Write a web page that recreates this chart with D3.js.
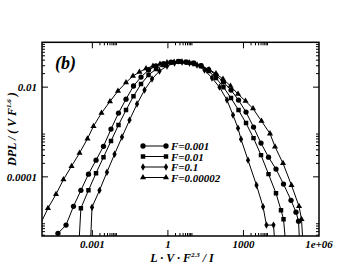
<!DOCTYPE html>
<html>
<head>
<meta charset="utf-8">
<script src="https://cdn.jsdelivr.net/npm/d3@7"></script>
<style>
  body { margin: 0; background: #fff; }
  text { font-family: "Liberation Serif", "Times New Roman", serif; font-weight: bold; font-style: italic; }
</style>
</head>
<body>
<div id="chart"></div>
<script>
// F = 0.001 (circles)
const f001X = [4.3e-5, 9.0e-5, 1.78e-4, 3.5e-4, 7.0e-4, 1.4e-3, 2.77e-3, 5.5e-3, 0.0109, 0.0217, 0.043, 0.0855, 0.17, 0.337, 0.668, 1.33, 2.64, 5.24, 10.4, 20.6, 41, 81, 161, 321, 637, 1265, 2510, 4980, 9900, 19600, 39000, 77400, 122000, 154000, 176000];
const f001Y = [5.5e-6, 8.4e-6, 2.2e-5, 5.0e-5, 1.15e-4, 2.36e-4, 4.8e-4, 1.16e-3, 2.64e-3, 5.4e-3, 0.0106, 0.0168, 0.0241, 0.0296, 0.0336, 0.0363, 0.0373, 0.0363, 0.0345, 0.0303, 0.0247, 0.0186, 0.013, 8.6e-3, 5.15e-3, 2.78e-3, 1.29e-3, 5.65e-4, 2.75e-4, 1.49e-4, 6.9e-5, 3.0e-5, 1.63e-5, 1.03e-5, 2e-6];

// F = 0.01 (squares)
const f01X = [2.8e-4, 3.5e-4, 7.0e-4, 1.4e-3, 2.77e-3, 5.5e-3, 0.0109, 0.0217, 0.043, 0.0855, 0.17, 0.337, 0.668, 1.33, 2.64, 5.24, 10.4, 20.6, 41, 81, 161, 321, 637, 1265, 2510, 4980, 9900, 19600, 31000, 39000, 51300];
const f01Y = [2e-6, 2.0e-5, 5.0e-5, 1.21e-4, 2.75e-4, 6.3e-4, 1.43e-3, 3.08e-3, 6.3e-3, 0.0117, 0.0186, 0.0254, 0.0311, 0.0354, 0.0373, 0.0363, 0.0345, 0.0296, 0.0229, 0.016, 0.01, 5.7e-3, 3.08e-3, 1.58e-3, 7.3e-4, 3.05e-4, 1.15e-4, 4.3e-5, 1.81e-5, 1.14e-5, 2e-6];

// F = 0.1 (diamonds)
const f1X = [8.1e-4, 9.7e-4, 1.92e-3, 3.8e-3, 7.6e-3, 0.015, 0.0299, 0.0593, 0.118, 0.234, 0.464, 0.92, 1.83, 3.63, 7.2, 14.3, 28.4, 56.4, 112, 222, 385, 608, 800, 1520, 3300, 6000, 8200, 15600, 18800];
const f1Y = [2e-6, 2.1e-5, 5.0e-5, 1.27e-4, 3.2e-4, 7.7e-4, 1.84e-3, 4.2e-3, 8.6e-3, 0.0152, 0.0229, 0.0296, 0.0345, 0.0363, 0.0345, 0.0311, 0.0241, 0.016, 0.01, 5.15e-3, 2.38e-3, 1.22e-3, 6.9e-4, 2.36e-4, 6.5e-5, 2.16e-5, 8.4e-6, 8.4e-6, 2e-6];

// F = 0.00002 (triangles)
const f00002X = [8.3e-6, 1.73e-5, 3.6e-5, 7.1e-5, 1.49e-4, 3.1e-4, 6.4e-4, 1.11e-3, 2.3e-3, 5.0e-3, 0.0104, 0.0217, 0.041, 0.074, 0.135, 0.256, 0.485, 0.92, 1.75, 3.3, 6.3, 11.9, 22.6, 42.9, 81, 154, 306, 608, 1208, 2400, 5200, 11350, 17900, 37200, 81000, 161000, 202000, 243000];
const f00002Y = [8.4e-6, 2.0e-5, 4.1e-5, 8.7e-5, 1.73e-4, 3.4e-4, 7.1e-4, 1.35e-3, 2.64e-3, 4.8e-3, 8.2e-3, 0.0127, 0.0177, 0.0217, 0.026, 0.0296, 0.0328, 0.0354, 0.0363, 0.0363, 0.0345, 0.032, 0.0288, 0.0247, 0.0201, 0.0152, 0.0106, 7.0e-3, 4.9e-3, 3.33e-3, 1.75e-3, 9.2e-4, 4.7e-4, 2.0e-4, 6.5e-5, 2.2e-5, 1.14e-5, 2e-6];

const legendLabels = ["F=0.001", "F=0.01", "F=0.1", "F=0.00002"];
const xTickValues = [1e-3, 1, 1e3, 1e6];
const xTickLabels = ["0.001", "1", "1000", "1e+06"];
const yTickValues = [1e-4, 1e-2];
const yTickLabels = ["0.0001", "0.01"];

const width = 359, height = 278;
const plotL = 42, plotR = 319, plotT = 42.3, plotB = 236;

const svg = d3.select("#chart").append("svg")
  .attr("width", width)
  .attr("height", height);

const x = d3.scaleLog().domain([1e-5, 1e6]).range([plotL, plotR]);
const y = d3.scaleLog().domain([4.8e-6, 0.1]).range([plotB, plotT]);

svg.append("defs").append("clipPath").attr("id", "clip")
  .append("rect")
  .attr("x", plotL).attr("y", plotT)
  .attr("width", plotR - plotL).attr("height", plotB - plotT);

// minor ticks: 2..9 times each major
const minorX = [], minorY = [];
[1e-6, 1e-3, 1, 1e3, 1e6].forEach(m => d3.range(2, 10).forEach(k => {
  const v = m * k;
  if (v > 1e-5 && v < 1e6) minorX.push(v);
}));
[1e-6, 1e-4, 1e-2, 1].forEach(m => d3.range(2, 10).forEach(k => {
  const v = m * k;
  if (v > 4.8e-6 && v < 0.1) minorY.push(v);
}));

const axes = svg.append("g").attr("stroke", "#000").attr("stroke-width", 1);
const xMaj = xTickValues.filter(v => v < 1e6);

axes.selectAll(null).data(xMaj).join("line")
  .attr("x1", d => x(d)).attr("x2", d => x(d))
  .attr("y1", plotB).attr("y2", plotB - 6);
axes.selectAll(null).data(xMaj).join("line")
  .attr("x1", d => x(d)).attr("x2", d => x(d))
  .attr("y1", plotT).attr("y2", plotT + 6);
axes.selectAll(null).data(minorX).join("line")
  .attr("x1", d => x(d)).attr("x2", d => x(d))
  .attr("y1", plotB).attr("y2", plotB - 3);
axes.selectAll(null).data(minorX).join("line")
  .attr("x1", d => x(d)).attr("x2", d => x(d))
  .attr("y1", plotT).attr("y2", plotT + 3);

axes.selectAll(null).data(yTickValues).join("line")
  .attr("y1", d => y(d)).attr("y2", d => y(d))
  .attr("x1", plotL).attr("x2", plotL + 6);
axes.selectAll(null).data(yTickValues).join("line")
  .attr("y1", d => y(d)).attr("y2", d => y(d))
  .attr("x1", plotR).attr("x2", plotR - 6);
axes.selectAll(null).data(minorY).join("line")
  .attr("y1", d => y(d)).attr("y2", d => y(d))
  .attr("x1", plotL).attr("x2", plotL + 3);
axes.selectAll(null).data(minorY).join("line")
  .attr("y1", d => y(d)).attr("y2", d => y(d))
  .attr("x1", plotR).attr("x2", plotR - 3);

// tick labels
svg.selectAll(null).data(xTickValues).join("text")
  .attr("x", d => x(d)).attr("y", 248)
  .attr("text-anchor", "middle").attr("font-size", 11)
  .text((d, i) => xTickLabels[i]);
svg.selectAll(null).data(yTickValues).join("text")
  .attr("x", 37).attr("y", d => y(d) + 4)
  .attr("text-anchor", "end").attr("font-size", 11)
  .text((d, i) => yTickLabels[i]);

// axis titles
const xt = svg.append("text").attr("x", 182).attr("y", 262)
  .attr("text-anchor", "middle").attr("font-size", 12);
xt.append("tspan").text("L · V · F");
xt.append("tspan").attr("dy", -5).attr("font-size", 7).text("2.3");
xt.append("tspan").attr("dy", 5).text(" / I");

const yt = svg.append("text")
  .attr("transform", "translate(16,129) rotate(-90)")
  .attr("text-anchor", "middle").attr("font-size", 12);
yt.append("tspan").text("DPL / ( V F");
yt.append("tspan").attr("dy", -5).attr("font-size", 7).text("1.6");
yt.append("tspan").attr("dy", 5).text(" )");

svg.append("text").attr("x", 55).attr("y", 69).attr("font-size", 18).text("(b)");

// series
const series = [
  {xs: f001X, ys: f001Y, sym: d3.symbolCircle, size: 22},
  {xs: f01X, ys: f01Y, sym: d3.symbolSquare, size: 20},
  {xs: f1X, ys: f1Y, sym: d3.symbolDiamond, size: 16},
  {xs: f00002X, ys: f00002Y, sym: d3.symbolTriangle, size: 16}
];

const line = d3.line().x(d => x(d[0])).y(d => y(d[1]));
const plot = svg.append("g").attr("clip-path", "url(#clip)");

series.forEach(s => {
  const pts = s.xs.map((v, i) => [v, s.ys[i]]);
  plot.append("path").datum(pts)
    .attr("fill", "none").attr("stroke", "#000").attr("stroke-width", 1)
    .attr("d", line);
  plot.selectAll(null).data(pts.filter(p => p[1] > 4.8e-6)).join("path")
    .attr("transform", p => `translate(${x(p[0])},${y(p[1])})`)
    .attr("d", d3.symbol().type(s.sym).size(s.size))
    .attr("fill", "#000");
});

// legend
const legY = [146, 156.5, 167, 177.5];
series.forEach((s, i) => {
  const g = svg.append("g");
  g.append("line").attr("x1", 143).attr("x2", 166)
    .attr("y1", legY[i]).attr("y2", legY[i])
    .attr("stroke", "#000").attr("stroke-width", 1);
  [143, 166].forEach(px => g.append("path")
    .attr("transform", `translate(${px},${legY[i]})`)
    .attr("d", d3.symbol().type(s.sym).size(s.size))
    .attr("fill", "#000"));
  g.append("text").attr("x", 171).attr("y", legY[i] + 4)
    .attr("font-size", 11).text(legendLabels[i]);
});

// frame
svg.append("rect")
  .attr("x", plotL).attr("y", plotT)
  .attr("width", plotR - plotL).attr("height", plotB - plotT)
  .attr("fill", "none").attr("stroke", "#000").attr("stroke-width", 1.5);
</script>
</body>
</html>
